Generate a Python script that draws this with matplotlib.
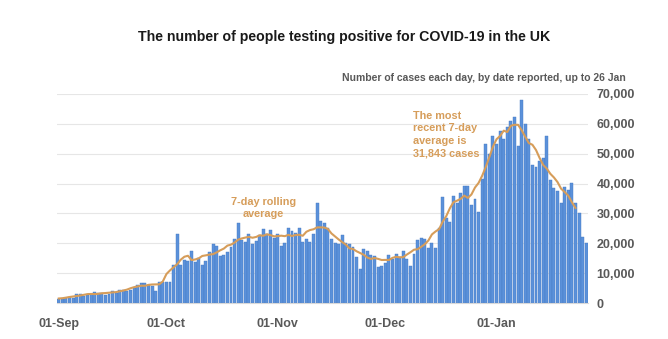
import numpy as np
import pandas as pd
import matplotlib
matplotlib.use('Agg')
import matplotlib.pyplot as plt

plt.rcParams['font.family'] = ['Liberation Sans', 'DejaVu Sans']

# Daily positive cases by date reported, 1 Sep 2020 - 26 Jan 2021
sep = [1295, 1508, 1735, 1940, 1813, 2988, 2948, 2460, 2659, 2919,
       3539, 3497, 3330, 2621, 3105, 3991, 3395, 4322, 4422, 3899,
       4368, 4926, 6178, 6634, 6874, 6042, 5693, 4044, 7143, 7108]
oct_ = [6914, 6968, 12872, 22961, 12594, 14542, 14162, 17540, 13864, 15166,
        12872, 13972, 17234, 19724, 18980, 15650, 16171, 16982, 18804, 21331,
        26688, 21242, 20530, 23012, 19790, 20890, 22885, 24701, 23065, 24405,
        21915]
nov = [23254, 18950, 20018, 25177, 24141, 23287, 24957, 20572, 21350, 20412,
       22950, 33470, 27301, 26860, 24962, 21363, 20051, 19609, 22915, 20252,
       19875, 18662, 15450, 11299, 18213, 17555, 16022, 15871, 12155, 12330]
dec = [13430, 16170, 14879, 16298, 15539, 17272, 14718, 12282, 16578, 20964,
       21672, 21502, 18447, 20263, 18450, 25161, 35383, 28507, 27052, 35928,
       33364, 36804, 39237, 39036, 32725, 34693, 30501, 41385, 53135, 50023,
       55892]
jan = [53285, 57725, 54990, 58784, 60916, 62322, 52618, 68053, 59937, 54940,
       46165, 45533, 47525, 48682, 55761, 41346, 38598, 37535, 33355, 38905,
       37892, 40261, 33552, 30004, 22195, 20089]
# last days of August, only used to start the rolling average
aug_tail = [1108, 1715, 1406]

tick_days = [0, 30, 61, 91, 122]
tick_labels = ['01-Sep', '01-Oct', '01-Nov', '01-Dec', '01-Jan']
y_ticks = [0, 10000, 20000, 30000, 40000, 50000, 60000, 70000]

cases = np.array(sep + oct_ + nov + dec + jan)
days = np.arange(len(cases))
# centred 7-day average, so it stops three days before the last bar
full = pd.Series(aug_tail + list(cases))
avg = full.rolling(7, center=True).mean().to_numpy()[len(aug_tail):]
latest_avg = cases[-7:].mean()

BLUE = '#5b91da'
EDGE = '#4579c2'
ORANGE = '#d69d5a'
GREY = '#595959'

fig = plt.figure(figsize=(6.68, 3.39), dpi=100)
ax = fig.add_axes([0.0853, 0.106, 0.795, 0.617])

ax.bar(days, cases, width=0.82, color=BLUE, edgecolor=EDGE, linewidth=0.3, zorder=2)
ax.plot(days, avg, color=ORANGE, linewidth=1.5, zorder=3)

ax.set_xlim(-0.5, len(cases) - 0.5)
ax.set_ylim(0, 70000)
ax.set_yticks(y_ticks)
ax.set_yticklabels(['{:,}'.format(v) for v in y_ticks])
ax.yaxis.tick_right()
ax.set_xticks(tick_days)
ax.set_xticklabels(tick_labels)
ax.tick_params(axis='both', length=0, colors=GREY, labelsize=9)
ax.tick_params(axis='y', pad=6)
ax.tick_params(axis='x', pad=11)
for lab in ax.get_xticklabels() + ax.get_yticklabels():
    lab.set_fontweight('bold')
for lab in ax.get_yticklabels():
    lab.set_horizontalalignment('left')

ax.grid(axis='y', color='#e6e6e6', linewidth=0.8, zorder=0)
for side in ['top', 'right', 'left']:
    ax.spines[side].set_visible(False)
ax.spines['bottom'].set_color('#d9d9d9')

fig.text(0.515, 0.89, 'The number of people testing positive for COVID-19 in the UK',
         ha='center', va='center', fontsize=10.2, fontweight='bold', color='#1a1a1a')
fig.text(0.937, 0.77, 'Number of cases each day, by date reported, up to 26 Jan',
         ha='right', va='center', fontsize=7.5, fontweight='bold', color=GREY)

ax.text(57, 28000, '7-day rolling\naverage', ha='center', va='bottom',
        fontsize=7.8, fontweight='bold', color=ORANGE, linespacing=1.35)
ax.text(98.7, 48500, 'The most\nrecent 7-day\naverage is\n{:,} cases'.format(round(latest_avg)),
        ha='left', va='bottom', fontsize=7.8, fontweight='bold', color=ORANGE,
        linespacing=1.3)

fig.savefig('out.png', dpi=100, facecolor='white')
